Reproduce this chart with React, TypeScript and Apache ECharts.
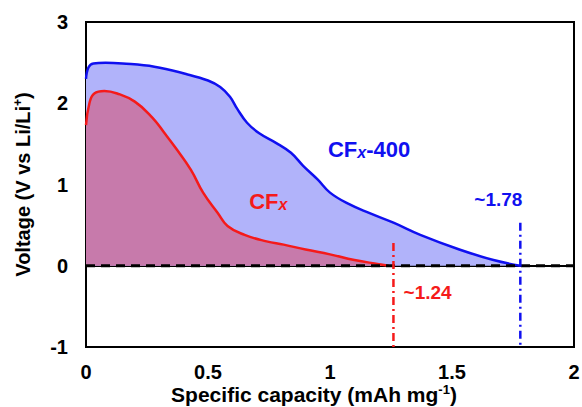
import React, { useEffect, useRef } from "react";
import * as echarts from "echarts";

const xTicks = [0, 0.5, 1, 1.5, 2];
const yTicks = [-1, 0, 1, 2, 3];

const cfx400Capacity = [0, 0.01, 0.03, 0.08, 0.15, 0.28, 0.41, 0.5, 0.55, 0.59, 0.62, 0.66, 0.71, 0.78, 0.84, 0.89, 0.95, 1.0, 1.07, 1.16, 1.26, 1.37, 1.53, 1.67, 1.78];
const cfx400Voltage = [2.3, 2.44, 2.49, 2.5, 2.49, 2.45, 2.36, 2.28, 2.2, 2.08, 1.93, 1.76, 1.63, 1.51, 1.39, 1.23, 1.06, 0.9, 0.77, 0.65, 0.53, 0.38, 0.2, 0.07, 0];

const cfxCapacity = [0, 0.014, 0.034, 0.075, 0.128, 0.2, 0.27, 0.32, 0.37, 0.43, 0.48, 0.54, 0.58, 0.65, 0.74, 0.81, 0.9, 1.0, 1.1, 1.2, 1.24];
const cfxVoltage = [1.73, 2.0, 2.12, 2.15, 2.12, 2.02, 1.83, 1.64, 1.44, 1.18, 0.9, 0.65, 0.49, 0.38, 0.3, 0.26, 0.2, 0.14, 0.07, 0.02, 0];

const zeroLineX = [0, 2];
const cfxEnd = 1.26;
const cfxEndTop = 0.28;
const cfx400End = 1.78;
const cfx400EndTop = 0.53;

const FONT = "'Liberation Sans', Arial, sans-serif";
const BLUE = "#1010f0";
const RED = "#f51a1a";

export default function App() {
  const ref = useRef<HTMLDivElement>(null);
  useEffect(() => {
    if (!ref.current) return;
    const chart = echarts.init(ref.current, undefined, { renderer: "svg" });
    const blueData = cfx400Capacity.map((x, i) => [x, cfx400Voltage[i]]);
    const redData = cfxCapacity.map((x, i) => [x, cfxVoltage[i]]);
    const dashDot = [8, 4, 2, 4];
    const labelBase = {
      fontFamily: FONT,
      fontWeight: "bold" as const,
    };
    const guide = (name: string, data: number[][], color: string, width: number, type: any) => ({
      name,
      type: "line",
      data,
      symbol: "none",
      silent: true,
      z: 10,
      lineStyle: { color, width, type, opacity: 1 },
    });
    chart.setOption({
      animation: false,
      grid: {
        left: 86,
        right: 8,
        top: 22,
        bottom: 60,
        show: true,
        borderColor: "#000",
        borderWidth: 2,
        backgroundColor: "transparent",
        containLabel: false,
        outerBoundsMode: "none",
      },
      xAxis: {
        type: "value",
        min: xTicks[0],
        max: xTicks[xTicks.length - 1],
        interval: 0.5,
        axisLine: { show: true, lineStyle: { color: "#000", width: 2 } },
        axisTick: { show: true, inside: true, length: 5, lineStyle: { color: "#000", width: 2 } },
        splitLine: { show: false },
        axisLabel: {
          color: "#000",
          fontSize: 20,
          fontWeight: "bold",
          fontFamily: FONT,
          margin: 15,
          formatter: (v: number) => String(v),
        },
        name: "{a|Specific capacity (mAh mg}{s|-1}{a|)}",
        nameLocation: "middle",
        nameGap: 36,
        nameMoveOverlap: false,
        nameTextStyle: {
          padding: [0, 32, 0, 0],
          lineHeight: 22,
          rich: {
            a: { fontSize: 21, lineHeight: 22, fontWeight: "bold", fontFamily: FONT, color: "#000" },
            s: { fontSize: 13, lineHeight: 14, fontWeight: "bold", fontFamily: FONT, color: "#000", verticalAlign: "top" },
          },
        },
      },
      yAxis: {
        type: "value",
        min: yTicks[0],
        max: yTicks[yTicks.length - 1],
        interval: 1,
        axisLine: { show: true, lineStyle: { color: "#000", width: 2 } },
        axisTick: { show: true, inside: true, length: 5, lineStyle: { color: "#000", width: 2 } },
        splitLine: { show: false },
        axisLabel: {
          color: "#000",
          fontSize: 20,
          fontWeight: "bold",
          fontFamily: FONT,
          margin: 18,
        },
        name: "{a|Voltage (V vs Li/Li}{s|+}{a|)}",
        nameLocation: "middle",
        nameGap: 52,
        nameMoveOverlap: false,
        nameTextStyle: {
          lineHeight: 22,
          rich: {
            a: { fontSize: 20, lineHeight: 22, fontWeight: "bold", fontFamily: FONT, color: "#000" },
            s: { fontSize: 12, lineHeight: 13, fontWeight: "bold", fontFamily: FONT, color: "#000", verticalAlign: "top" },
          },
        },
      },
      series: [
        {
          name: "CFx-400",
          type: "line",
          data: blueData,
          smooth: 0.4,
          symbol: "none",
          lineStyle: { color: BLUE, width: 2.5 },
          areaStyle: { color: "#b1b3fa", opacity: 1 },
          z: 2,
          markPoint: {
            symbol: "circle",
            symbolSize: 1,
            itemStyle: { color: "transparent" },
            label: { show: true, position: "inside" },
            data: [
              {
                coord: [1.16, 1.43],
                label: {
                  formatter: "{a|CF}{b|x}{a|-400}",
                  rich: {
                    a: { ...labelBase, fontSize: 22, color: BLUE },
                    b: { ...labelBase, fontSize: 16, fontStyle: "italic", color: BLUE, verticalAlign: "bottom" },
                  },
                },
              },
              {
                coord: [1.69, 0.81],
                label: { formatter: "~1.78", ...labelBase, fontSize: 19, color: BLUE },
              },
            ],
          },
        },
        {
          name: "CFx",
          type: "line",
          data: redData,
          smooth: 0.45,
          symbol: "none",
          lineStyle: { color: RED, width: 2.5 },
          areaStyle: { color: "#c77aab", opacity: 1 },
          z: 3,
          markPoint: {
            symbol: "circle",
            symbolSize: 1,
            itemStyle: { color: "transparent" },
            label: { show: true, position: "inside" },
            data: [
              {
                coord: [0.747, 0.79],
                label: {
                  formatter: "{a|CF}{b|x}",
                  rich: {
                    a: { ...labelBase, fontSize: 22, color: RED },
                    b: { ...labelBase, fontSize: 16, fontStyle: "italic", color: RED, verticalAlign: "bottom" },
                  },
                },
              },
              {
                coord: [1.4, -0.33],
                label: { formatter: "~1.24", ...labelBase, fontSize: 19, color: RED },
              },
            ],
          },
        },
        guide("zero", [[zeroLineX[0], 0], [zeroLineX[1], 0]], "#000", 3, [9, 6]),
        guide("cfxEnd", [[cfxEnd, cfxEndTop], [cfxEnd, yTicks[0]]], RED, 2.5, dashDot),
        guide("cfx400End", [[cfx400End, cfx400EndTop], [cfx400End, yTicks[0]]], BLUE, 2.5, dashDot),
      ],
    });
    return () => chart.dispose();
  }, []);
  return <div ref={ref} style={{ width: 582, height: 407, position: "absolute", left: 0, top: 0 }} />;
}
